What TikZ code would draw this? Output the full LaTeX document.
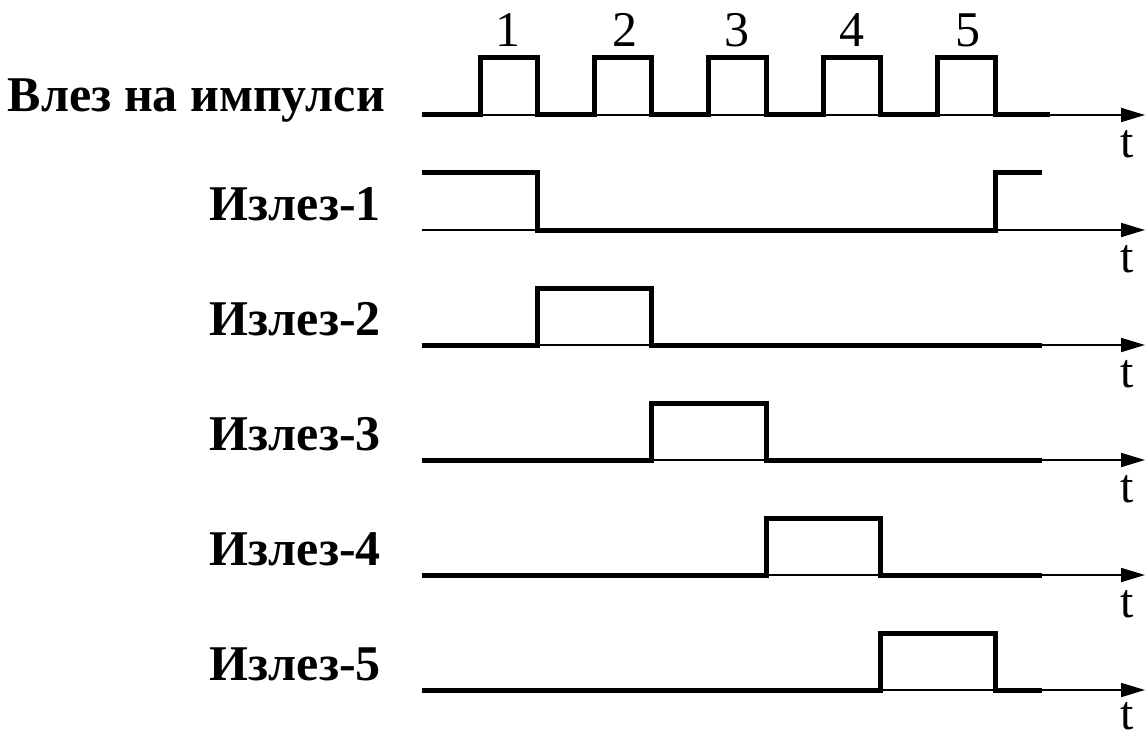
\documentclass[tikz,border=0pt]{standalone}
\usepackage{fontspec}
\setmainfont{Liberation Serif}
\usetikzlibrary{arrows.meta}

\begin{document}
\begin{tikzpicture}[x=1pt,y=-1pt,
  sig/.style={line width=5pt,line join=miter},
  axis/.style={line width=1.8pt,-{Triangle[length=24pt,width=14pt]}},
  lbl/.style={font=\fontsize{50}{54}\selectfont\bfseries,anchor=east,inner sep=0pt},
  tlbl/.style={font=\fontsize{48}{50}\selectfont,inner sep=0pt},
  num/.style={font=\fontsize{50}{54}\selectfont,inner sep=0pt}]
  \useasboundingbox (0,0) rectangle (1147,738);
  % Влез
  \draw[axis] (422,115) -- (1145,115);
  \draw[sig] (422,115) -- (480,115) -- (480,58) -- (537,58) -- (537,115)
    -- (594,115) -- (594,58) -- (651,58) -- (651,115)
    -- (708,115) -- (708,58) -- (766,58) -- (766,115)
    -- (823,115) -- (823,58) -- (880,58) -- (880,115)
    -- (937,115) -- (937,58) -- (995,58) -- (995,115) -- (1050,115);
  \node[lbl] (vlez) at (385,101) {Влез на импулси};
  \node[num] (n1) at (508,30) {1};
  \node[num] (n2) at (625,30) {2};
  \node[num] (n3) at (737,30) {3};
  \node[num] (n4) at (852,30) {4};
  \node[num] (n5) at (968,30) {5};
  \node[tlbl] (t0) at (1127,144) {t};
  % Изход 1
  \draw[axis] (422,230) -- (1145,230);
  \draw[sig] (422,173) -- (537,173) -- (537,230) -- (995,230) -- (995,173) -- (1042,173);
  \node[lbl] (iz1) at (381,204) {Излез-1};
  \node[tlbl] (t1) at (1127,259) {t};
  % Изход 2
  \draw[axis] (422,345) -- (1145,345);
  \draw[sig] (422,345) -- (537,345) -- (537,288) -- (651,288) -- (651,345) -- (1042,345);
  \node[lbl] (iz2) at (381,319) {Излез-2};
  \node[tlbl] (t2) at (1127,374) {t};
  % Изход 3
  \draw[axis] (422,460) -- (1145,460);
  \draw[sig] (422,460) -- (651,460) -- (651,403) -- (766,403) -- (766,460) -- (1042,460);
  \node[lbl] (iz3) at (381,434) {Излез-3};
  \node[tlbl] (t3) at (1127,489) {t};
  % Изход 4
  \draw[axis] (422,575) -- (1145,575);
  \draw[sig] (422,575) -- (766,575) -- (766,518) -- (880,518) -- (880,575) -- (1042,575);
  \node[lbl] (iz4) at (381,549) {Излез-4};
  \node[tlbl] (t4) at (1127,604) {t};
  % Изход 5
  \draw[axis] (422,690) -- (1145,690);
  \draw[sig] (422,690) -- (880,690) -- (880,633) -- (995,633) -- (995,690) -- (1042,690);
  \node[lbl] (iz5) at (381,664) {Излез-5};
  \node[tlbl] (t5) at (1127,716) {t};
\end{tikzpicture}
\end{document}
